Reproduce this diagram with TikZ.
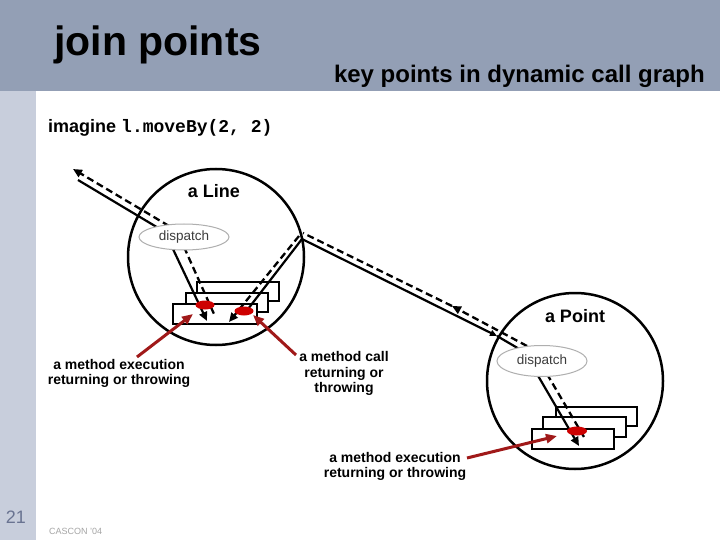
\documentclass[tikz,border=0pt]{standalone}
\usepackage{fontspec}
\setmainfont{Liberation Sans}
\setmonofont{Liberation Mono}
\usetikzlibrary{shapes.geometric,arrows.meta}
\definecolor{band}{RGB}{147,159,181}
\definecolor{side}{RGB}{200,206,220}
\definecolor{numc}{RGB}{105,115,145}
\definecolor{footc}{RGB}{165,165,165}
\definecolor{darkred}{RGB}{160,25,25}
\definecolor{blobred}{RGB}{205,0,0}
\definecolor{ellgray}{RGB}{175,175,175}
\definecolor{disptext}{RGB}{60,60,60}
\tikzset{
  objcircle/.style={circle, draw=black, line width=2.5pt, inner sep=0, outer sep=0},
  methbox/.style={rectangle, draw=black, fill=white, line width=2pt, inner sep=0, outer sep=0},
  dispnode/.style={ellipse, draw=ellgray, line width=1pt, fill=white, inner sep=0,
    font=\fontsize{13.5}{13.5}\selectfont, text=disptext},
  blob/.style={ellipse, fill=blobred, inner sep=0, minimum width=19pt, minimum height=9pt},
  callline/.style={line width=2.2pt, black},
  retline/.style={line width=2.3pt, black, dash pattern=on 7pt off 4pt},
  btip/.style={-{Triangle[length=9pt,width=8pt]}},
  redarrow/.style={line width=3pt, darkred, -{Triangle[length=11pt,width=9pt]}},
  lab/.style={align=center, inner sep=0, font=\bfseries\fontsize{14}{15.5}\selectfont},
  objname/.style={anchor=base, inner sep=0, font=\bfseries\fontsize{18}{18}\selectfont}
}
\begin{document}
\begin{tikzpicture}[x=1pt,y=-1pt]
\useasboundingbox (0,0) rectangle (720,540);
\fill[white] (0,0) rectangle (720,540);
\fill[band] (0,0) rectangle (720,91);
\fill[side] (0,91) rectangle (36,540);

% header texts
\node[anchor=base west, inner sep=0, font=\bfseries\fontsize{41}{41}\selectfont] (title) at (54,56) {join points};
\node[anchor=base east, inner sep=0, font=\bfseries\fontsize{24}{24}\selectfont] (subtitle) at (705,83) {key points in dynamic call graph};
\node[anchor=base west, inner sep=0, font=\bfseries\fontsize{18}{18}\selectfont] (imag) at (48,133) {imagine \texttt{l.moveBy(2, 2)}};

% object circles
\node[objcircle, minimum size=176pt] (lc) at (216,257) {};
\node[objcircle, minimum size=176pt] (pc) at (575,381) {};
\node[objname] (lname) at (214,198) {a Line};
\node[objname] (pname) at (575,322) {a Point};

% method boxes (Line)
\node[methbox, minimum width=82pt, minimum height=19pt] (lr3) at (238,291.5) {};
\node[methbox, minimum width=82pt, minimum height=19pt] (lr2) at (227,302.5) {};
\node[methbox, minimum width=84pt, minimum height=20pt] (lr1) at (215,314) {};
% method boxes (Point)
\node[methbox, minimum width=81pt, minimum height=19pt] (pr3) at (596.5,416.5) {};
\node[methbox, minimum width=83pt, minimum height=20pt] (pr2) at (584.5,427) {};
\node[methbox, minimum width=82pt, minimum height=20pt] (pr1) at (573,439) {};

% coordinates of the flow lines
\coordinate (a1) at (78,180);
\coordinate (a2) at (160,229);
\coordinate (b1) at (169,226);
\coordinate (b2) at (73,169);
\coordinate (c1) at (172,247);
\coordinate (c2) at (207,321);
\coordinate (d1) at (184,247);
\coordinate (d2) at (214,314);
\coordinate (e1) at (248,309);
\coordinate (junc) at (302,239);
\coordinate (f1) at (299,236);
\coordinate (f2) at (229,322);
\coordinate (gmid) at (497,336);
\coordinate (g2) at (521,350);
\coordinate (h1) at (527,346);
\coordinate (hmid) at (452,306);
\coordinate (h2) at (303,233);
\coordinate (i1) at (537,374);
\coordinate (i2) at (579,446);
\coordinate (j1) at (547,374);
\coordinate (j2) at (584,437);

% call (solid) and return (dashed) lines
\draw[callline] (a1) -- (a2);
\draw[retline, btip] (b1) -- (b2);
\draw[callline, btip] (c1) -- (c2);
\draw[retline] (d1) -- (d2);
\draw[callline] (e1) -- (junc);
\draw[retline, btip] (f1) -- (f2);
\draw[callline, -{Triangle[length=7pt,width=6pt]}] (junc) -- (gmid);
\draw[callline] (gmid) -- (g2);
\draw[retline, btip] (h1) -- (hmid);
\draw[retline] (hmid) -- (h2);
\draw[callline, btip] (i1) -- (i2);
\draw[retline] (j1) -- (j2);

% dispatch ellipses
\node[dispnode, minimum width=90pt, minimum height=26pt] (ld) at (184,237) {dispatch};
\node[dispnode, minimum width=90pt, minimum height=31pt] (pd) at (542,361) {dispatch};

% join point blobs
\node[blob] (lb1) at (205,305) {};
\node[blob] (lb2) at (244,311) {};
\node[blob, minimum width=20pt, minimum height=9pt] (pb1) at (577,431) {};

% labels
\node[lab] (lab1) at (119,373.5) {a method execution\\returning or throwing};
\node[lab] (lab2) at (344,373.5) {a method call\\returning or\\throwing};
\node[lab] (lab3) at (395,466.5) {a method execution\\returning or throwing};

\coordinate (r1s) at (137,357);
\coordinate (r1e) at (193,314);
\coordinate (r2s) at (296,355);
\coordinate (r2e) at (253,315);
\coordinate (r3s) at (467,458);
\coordinate (r3e) at (557,436);
\draw[redarrow] (r1s) -- (r1e);
\draw[redarrow] (r2s) -- (r2e);
\draw[redarrow] (r3s) -- (r3e);

% footer
\node[font=\fontsize{18}{18}\selectfont, text=numc, inner sep=0] (pg) at (16,517) {21};
\node[anchor=base west, inner sep=0, font=\fontsize{9}{9}\selectfont, text=footc] (foot) at (49,534) {CASCON '04};
\end{tikzpicture}
\end{document}
